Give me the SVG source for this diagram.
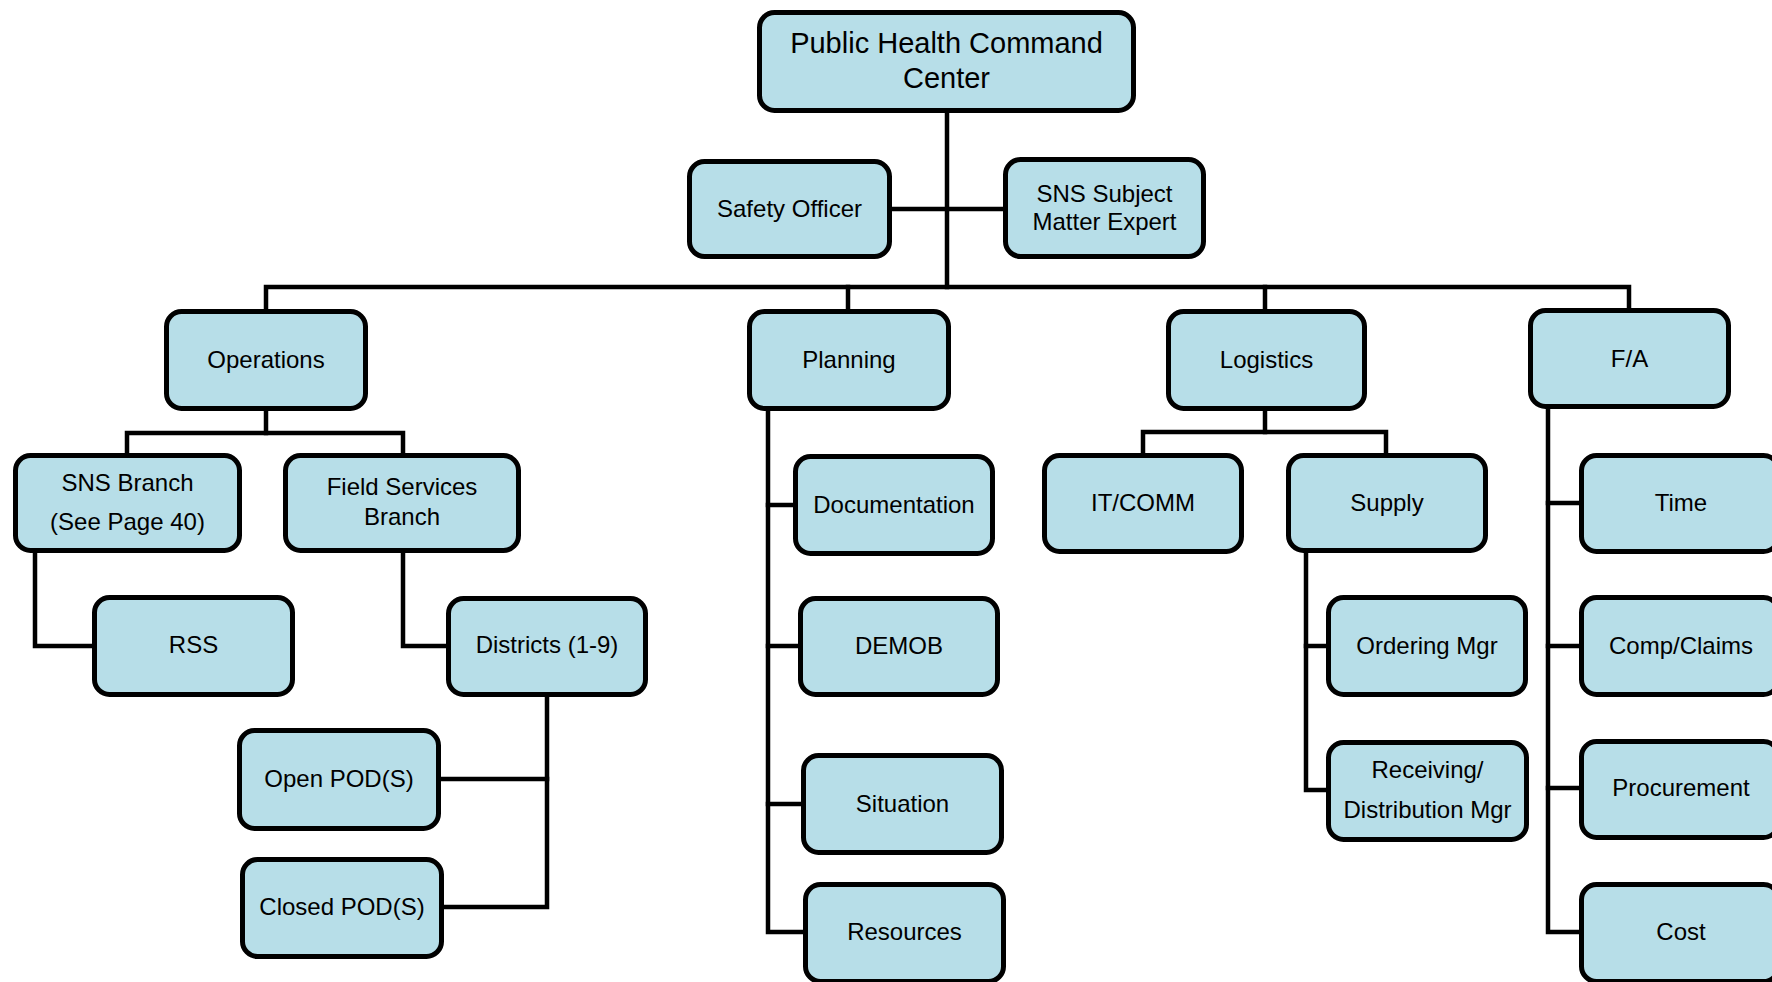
<svg xmlns="http://www.w3.org/2000/svg" width="1772" height="982" viewBox="0 0 1772 982">
<style>
.n{fill:#b7dee8;stroke:#000;stroke-width:5}
.t{font-family:"Liberation Sans",Arial,sans-serif;font-size:24px;fill:#000;text-anchor:middle}
.big{font-size:29px}
.c{fill:none;stroke:#000;stroke-width:4.5;stroke-linejoin:miter;stroke-linecap:square}
</style>
<rect width="1772" height="982" fill="#fff"/>
<g id="connectors" class="c">
<path d="M947 113V287"/>
<path d="M894 209H1001"/>
<path d="M266 307V287H1629V306"/>
<path d="M848 287V307"/>
<path d="M1265 287V307"/>
<path d="M266 413V433"/>
<path d="M127 451V433H403V451"/>
<path d="M35 555V646H90"/>
<path d="M403 555V646H444"/>
<path d="M547 699V907H446"/>
<path d="M443 779H547"/>
<path d="M768 413V932H801"/>
<path d="M768 505H791"/>
<path d="M768 646H796"/>
<path d="M768 804H799"/>
<path d="M1265 413V432"/>
<path d="M1143 451V432H1386V451"/>
<path d="M1306 555V790H1324"/>
<path d="M1306 646H1324"/>
<path d="M1548 411V932H1577"/>
<path d="M1548 503H1577"/>
<path d="M1548 646H1577"/>
<path d="M1548 788H1577"/>
</g>
<g id="phcc"><rect class="n" x="759.5" y="12.5" width="374" height="98" rx="15"/><text class="t big" x="946.5" y="53">Public Health Command</text><text class="t big" x="946.5" y="88">Center</text></g>
<g id="safety"><rect class="n" x="689.5" y="161.5" width="200" height="95" rx="15"/><text class="t" x="789.5" y="217">Safety Officer</text></g>
<g id="sme"><rect class="n" x="1005.5" y="159.5" width="198" height="97" rx="15"/><text class="t" x="1104.5" y="202">SNS Subject</text><text class="t" x="1104.5" y="230">Matter Expert</text></g>
<g id="operations"><rect class="n" x="166.5" y="311.5" width="199" height="97" rx="15"/><text class="t" x="266" y="368">Operations</text></g>
<g id="planning"><rect class="n" x="749.5" y="311.5" width="199" height="97" rx="15"/><text class="t" x="849" y="368">Planning</text></g>
<g id="logistics"><rect class="n" x="1168.5" y="311.5" width="196" height="97" rx="15"/><text class="t" x="1266.5" y="368">Logistics</text></g>
<g id="fa"><rect class="n" x="1530.5" y="310.5" width="198" height="96" rx="15"/><text class="t" x="1629.5" y="367">F/A</text></g>
<g id="sns-branch"><rect class="n" x="15.5" y="455.5" width="224" height="95" rx="15"/><text class="t" x="127.5" y="491">SNS Branch</text><text class="t" x="127.5" y="530">(See Page 40)</text></g>
<g id="field-services"><rect class="n" x="285.5" y="455.5" width="233" height="95" rx="15"/><text class="t" x="402" y="495">Field Services</text><text class="t" x="402" y="525">Branch</text></g>
<g id="rss"><rect class="n" x="94.5" y="597.5" width="198" height="97" rx="15"/><text class="t" x="193.5" y="653">RSS</text></g>
<g id="districts"><rect class="n" x="448.5" y="598.5" width="197" height="96" rx="15"/><text class="t" x="547" y="653">Districts (1-9)</text></g>
<g id="open-pod"><rect class="n" x="239.5" y="730.5" width="199" height="98" rx="15"/><text class="t" x="339" y="787">Open POD(S)</text></g>
<g id="closed-pod"><rect class="n" x="242.5" y="859.5" width="199" height="97" rx="15"/><text class="t" x="342" y="915">Closed POD(S)</text></g>
<g id="documentation"><rect class="n" x="795.5" y="456.5" width="197" height="97" rx="15"/><text class="t" x="894" y="513">Documentation</text></g>
<g id="demob"><rect class="n" x="800.5" y="598.5" width="197" height="96" rx="15"/><text class="t" x="899" y="654">DEMOB</text></g>
<g id="situation"><rect class="n" x="803.5" y="755.5" width="198" height="97" rx="15"/><text class="t" x="902.5" y="812">Situation</text></g>
<g id="resources"><rect class="n" x="805.5" y="884.5" width="198" height="97" rx="15"/><text class="t" x="904.5" y="940">Resources</text></g>
<g id="itcomm"><rect class="n" x="1044.5" y="455.5" width="197" height="96" rx="15"/><text class="t" x="1143" y="511">IT/COMM</text></g>
<g id="supply"><rect class="n" x="1288.5" y="455.5" width="197" height="95" rx="15"/><text class="t" x="1387" y="511">Supply</text></g>
<g id="ordering"><rect class="n" x="1328.5" y="597.5" width="197" height="97" rx="15"/><text class="t" x="1427" y="654">Ordering Mgr</text></g>
<g id="receiving"><rect class="n" x="1328.5" y="742.5" width="198" height="97" rx="15"/><text class="t" x="1427.5" y="778">Receiving/</text><text class="t" x="1427.5" y="818">Distribution Mgr</text></g>
<g id="time"><rect class="n" x="1581.5" y="455.5" width="197" height="96" rx="15"/><text class="t" x="1681" y="511">Time</text></g>
<g id="comp"><rect class="n" x="1581.5" y="597.5" width="197" height="97" rx="15"/><text class="t" x="1681" y="654">Comp/Claims</text></g>
<g id="procurement"><rect class="n" x="1581.5" y="741.5" width="197" height="96" rx="15"/><text class="t" x="1681" y="796">Procurement</text></g>
<g id="cost"><rect class="n" x="1581.5" y="884.5" width="197" height="97" rx="15"/><text class="t" x="1681" y="940">Cost</text></g>
</svg>
